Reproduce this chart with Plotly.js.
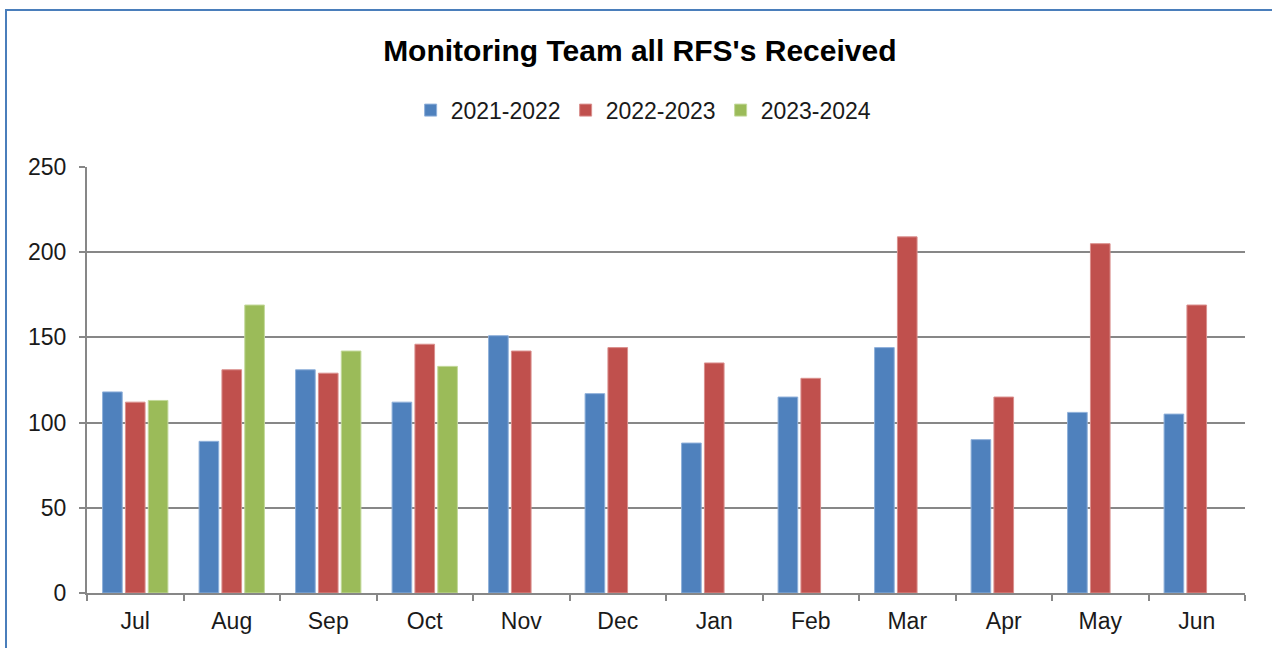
<!DOCTYPE html>
<html>
<head>
<meta charset="utf-8">
<script src="https://cdn.plot.ly/plotly-3.0.1.min.js"></script>
<style>
  html, body { margin: 0; padding: 0; background: #fff; overflow: hidden; }
  #chart { position: absolute; left: 0; top: 0; width: 1272px; height: 648px; }
  #frame { position: absolute; left: 5px; top: 9px; width: 1400px; height: 800px;
           border: 2.5px solid #4A7EBB; pointer-events: none; box-sizing: border-box; }
</style>
</head>
<body>
<div id="chart"></div>
<div id="frame"></div>
<script>
const months = ["Jul","Aug","Sep","Oct","Nov","Dec","Jan","Feb","Mar","Apr","May","Jun"];
const seriesNames = ["2021-2022","2022-2023","2023-2024"];
const fy2122 = [118, 89, 131, 112, 151, 117, 88, 115, 144, 90, 106, 105];
const fy2223 = [112, 131, 129, 146, 142, 144, 135, 126, 209, 115, 205, 169];
const fy2324 = [113, 169, 142, 133, null, null, null, null, null, null, null, null];
const colors = ["#4F81BD", "#C0504D", "#9BBB59"];
const edge = ["#8FB0DA", "#DA8F8D", "#C3D99B"];

const allSeries = [fy2122, fy2223, fy2324];
const traces = allSeries.map((vals, i) => ({
  type: "bar",
  name: seriesNames[i],
  x: months,
  y: vals,
  marker: { color: colors[i], line: { color: edge[i], width: 1 } },
  hoverinfo: "x+y+name"
}));

const gridCol = "#878787";
const layout = {
  width: 1272,
  height: 648,
  paper_bgcolor: "#ffffff",
  plot_bgcolor: "#ffffff",
  margin: { l: 87, r: 27, t: 167, b: 55 },
  font: { family: "Liberation Sans, Arial, sans-serif", color: "#1a1a1a", size: 23 },
  title: {
    text: "<b>Monitoring Team all RFS's Received</b>",
    font: { family: "Liberation Sans, Arial, sans-serif", size: 30, color: "#000" },
    xref: "container", x: 0.503, xanchor: "center",
    yref: "container", y: 0.922, yanchor: "middle"
  },
  showlegend: true,
  legend: {
    orientation: "h",
    xref: "container", x: 0.506, xanchor: "center",
    yref: "container", y: 0.830, yanchor: "middle",
    font: { size: 23, color: "#1a1a1a" },
    itemwidth: 30,
    traceorder: "normal"
  },
  barmode: "group",
  bargap: 0.29,
  bargroupgap: 0.14,
  xaxis: {
    type: "category",
    categoryorder: "array",
    categoryarray: months,
    showline: true, linecolor: gridCol, linewidth: 2,
    ticks: "outside", tickson: "boundaries", ticklen: 6, tickwidth: 2, tickcolor: gridCol,
    ticklabelstandoff: 6,
    tickfont: { size: 23, color: "#1a1a1a" },
    showgrid: false, zeroline: false, fixedrange: true
  },
  yaxis: {
    range: [0, 250],
    tickvals: [0, 50, 100, 150, 200, 250],
    ticktext: ["0", "50", "100", "150", "200", "250"],
    showline: true, linecolor: gridCol, linewidth: 2,
    ticks: "outside", ticklen: 6, tickwidth: 2, tickcolor: gridCol,
    ticklabelstandoff: 8,
    tickfont: { size: 23, color: "#1a1a1a" },
    showgrid: true, gridcolor: gridCol, gridwidth: 2,
    zeroline: false, fixedrange: true
  }
};

Plotly.newPlot("chart", traces, layout, { displayModeBar: false, staticPlot: true });
</script>
</body>
</html>
